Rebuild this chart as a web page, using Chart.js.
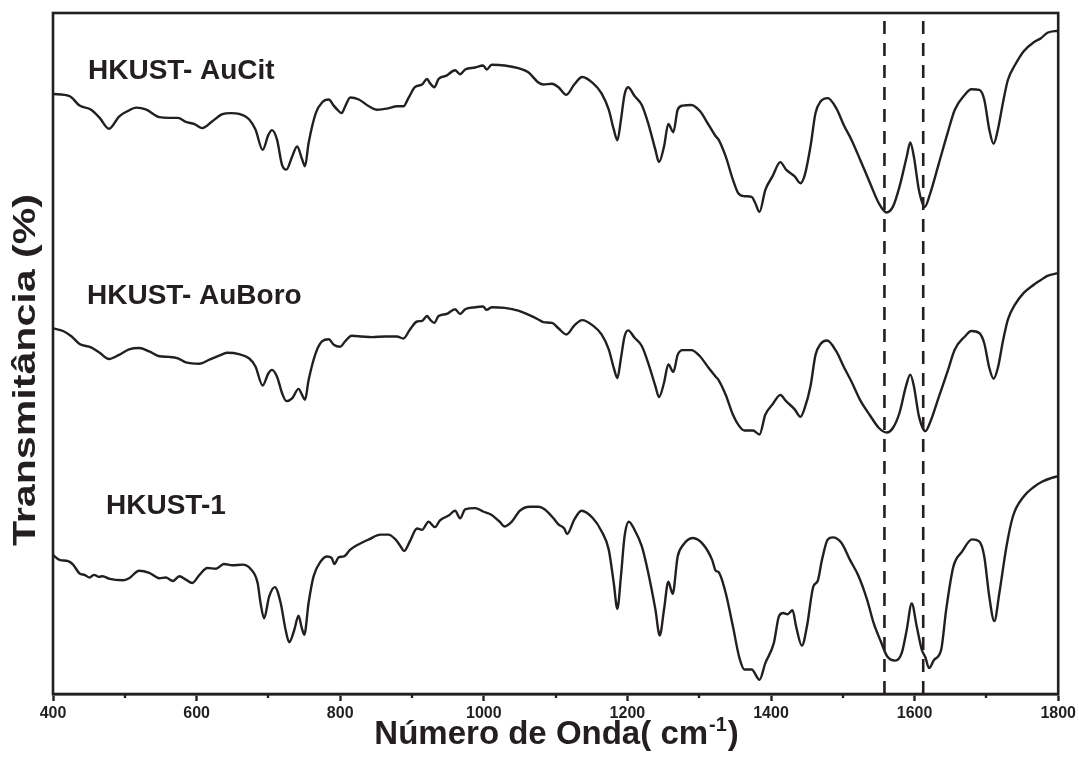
<!DOCTYPE html>
<html>
<head>
<meta charset="utf-8">
<title>Espectros FTIR</title>
<script src="https://cdn.jsdelivr.net/npm/chart.js@4.4.1/dist/chart.umd.min.js"></script>
<style>
  html, body { margin: 0; padding: 0; background: #ffffff; }
  canvas { display: block; }
</style>
</head>
<body>
<canvas id="ftir" width="1079" height="760"></canvas>
<script>
// FTIR spectra (transmittance, arbitrary offset units) vs. wavenumber (cm-1)
const aucitWave = [400,423,437,453,465,478,492,504,516,530,548,562,574,585,597,608,622,635,648,659,673,682,692,700,705,712,719,725,733,740,747,751,756,766,775,784,791,796,802,807,814,826,840,851,867,879,888,895,904,914,921,925,931,937,948,960,967,974,988,999,1004,1011,1029,1048,1062,
  1076,1083,1095,1104,1115,1126,1137,1152,1164,1174,1181,1186,1191,1196,1201,1210,1220,1229,1239,1244,1251,1257,1264,1270,1277,1289,1301,1313,1323,1327,1337,1347,1354,1363,1373,1378,1384,1392,1402,1413,1421,1433,1441,1447,1455,1462,1469,1479,1491,1502,1512,1524,1538,1550,1561,1570,1579,1589,1594,1599,1606,1614,1622,1634,1646,1656,1670,1679,1690,1697,1704,1710,1716,1723,1730,1740,1752,1766,1776,1785,1800];
const aucitT = [88.1,87.8,86.4,85.8,84.6,83.0,84.8,85.6,86.1,85.8,84.7,84.6,84.6,84.0,83.7,83.1,84.1,85.1,85.3,85.2,84.4,82.9,79.9,82.1,82.8,81.4,77.7,77.0,78.9,80.4,78.5,77.5,80.9,85.3,86.9,87.3,86.4,85.8,85.3,86.3,87.6,87.3,86.3,85.8,86.0,86.3,86.3,87.5,89.1,89.5,90.3,89.7,89.1,90.3,90.8,91.6,91.0,91.7,92.0,92.3,91.7,92.4,92.3,91.9,91.3,
  89.8,89.5,89.6,89.1,88.0,89.5,90.6,89.7,88.2,85.8,82.9,81.3,84.3,88.0,89.1,87.8,86.5,83.8,79.9,78.1,80.4,83.7,82.5,85.8,86.4,86.5,85.6,83.6,81.9,81.4,78.9,75.5,73.6,73.1,73.0,72.1,70.8,74.0,76.0,78.1,77.0,76.0,75.0,76.2,80.4,85.3,87.0,87.5,86.0,83.4,81.4,78.5,75.0,72.1,70.7,71.6,74.5,78.9,81.0,78.9,74.0,71.5,73.6,78.0,82.4,85.8,88.0,88.8,88.7,87.3,82.9,80.8,82.9,86.8,90.2,92.4,94.4,95.7,96.3,97.1,97.4];

const auboroWave = [400,414,426,437,453,465,478,492,506,520,534,548,562,574,585,604,618,634,643,659,673,682,692,700,705,712,719,725,733,742,747,751,756,766,775,784,791,800,807,816,830,844,863,879,888,897,907,914,921,925,931,937,948,960,967,974,988,999,1004,1011,1029,1048,1062,
  1076,1083,1095,1104,1115,1126,1137,1152,1164,1174,1181,1186,1191,1196,1201,1210,1220,1229,1239,1244,1251,1257,1264,1270,1277,1289,1301,1313,1323,1327,1337,1347,1356,1363,1375,1384,1392,1402,1413,1421,1433,1441,1447,1455,1462,1469,1478,1491,1502,1512,1524,1538,1550,1561,1570,1579,1588,1594,1599,1606,1615,1622,1634,1646,1656,1670,1679,1690,1697,1704,1710,1716,1723,1730,1740,1752,1766,1776,1785,1800];
const auboroT = [53.7,53.3,52.5,51.4,50.9,50.1,49.2,49.8,50.6,50.8,50.3,49.6,49.5,49.3,48.7,48.5,49.1,49.8,50.1,49.9,49.3,48.1,45.3,47.1,47.6,46.6,44.2,43.0,43.4,44.8,43.9,43.2,46.1,50.1,51.8,52.1,51.3,51.0,51.8,52.6,52.5,52.4,52.5,52.5,52.2,53.5,54.7,54.8,55.5,55.0,54.5,55.5,55.8,56.5,55.8,56.5,56.8,56.9,56.4,56.8,56.7,56.3,55.7,
  55.0,54.6,54.5,53.7,52.8,54.1,54.9,54.1,52.8,50.6,47.9,46.4,49.3,52.5,53.4,52.3,51.1,48.6,45.2,43.6,45.7,48.4,47.3,49.8,50.5,50.5,49.6,47.9,46.6,46.1,43.9,41.0,39.3,38.7,38.7,38.1,41.0,42.5,43.9,43.0,41.8,40.7,42.0,45.2,49.8,51.4,51.9,50.3,47.9,45.9,43.2,40.9,39.1,38.4,39.1,41.3,45.2,46.9,45.2,40.8,38.6,40.0,43.7,47.4,50.6,52.5,53.3,53.0,51.5,47.9,46.3,47.9,51.8,55.0,57.2,58.9,60.1,60.8,61.4,61.8];

const hkustWave = [400,409,421,428,437,444,451,457,464,469,479,497,506,520,534,548,557,567,576,585,594,604,615,627,638,650,664,675,685,689,694,701,709,717,724,729,736,742,746,750,756,763,773,782,788,792,798,805,814,826,840,856,867,877,884,889,897,907,914,923,932,939,951,960,967,974,988,999,1011,1022,1029,1039,1050,1064,
  1076,1085,1097,1104,1112,1116,1126,1136,1152,1164,1174,1181,1186,1191,1196,1202,1210,1220,1229,1239,1245,1251,1257,1263,1270,1277,1291,1306,1318,1323,1327,1337,1347,1356,1363,1373,1384,1392,1404,1411,1417,1423,1430,1435,1443,1450,1459,1465,1471,1479,1486,1498,1510,1522,1534,1543,1553,1562,1573,1582,1589,1596,1603,1610,1615,1620,1627,1637,1644,1654,1666,1680,1690,1697,1704,1711,1718,1728,1737,1752,1766,1778,1790,1800];
const hkustT = [20.4,19.7,19.5,19.0,17.7,17.5,17.1,17.5,17.2,17.3,16.9,16.7,17.0,18.1,17.8,17.0,17.1,16.6,17.3,16.8,16.3,17.5,18.5,18.4,19.1,18.9,19.0,18.4,16.3,13.4,11.1,14.3,15.7,13.4,9.4,7.6,9.4,11.5,9.9,8.7,13.4,17.3,19.5,20.2,20.0,19.1,20.1,20.2,21.2,22.0,22.7,23.4,23.4,22.7,21.7,21.0,22.4,24.3,24.1,25.3,24.5,25.5,26.2,26.9,25.8,27.1,27.3,26.8,26.3,25.3,24.6,25.3,26.9,27.5,
  27.5,27.1,25.8,24.9,24.3,23.5,25.6,26.9,25.8,23.9,21.2,16.3,12.5,17.3,23.1,25.3,24.1,21.7,17.8,12.4,8.6,12.4,16.5,14.7,20.2,21.8,22.9,21.9,19.7,18.1,17.9,14.8,9.9,5.3,3.6,3.6,2.1,4.5,7.5,11.4,11.9,11.7,12.3,9.9,7.1,9.9,15.8,16.6,19.7,22.7,23.0,22.2,19.7,17.3,13.8,10.4,7.7,5.5,4.9,6.0,9.4,13.3,9.9,6.5,5.4,3.8,5.0,6.5,12.4,18.7,20.9,22.7,22.4,20.2,14.3,10.7,14.8,21.7,26.1,29.0,30.4,31.2,31.7,32.0];

// reference band positions marked with dashed lines
const bandWave = [1558, 1612];
const seriesNames = ['HKUST- AuCit', 'HKUST- AuBoro', 'HKUST-1'];
const xMajorTicks = [400, 600, 800, 1000, 1200, 1400, 1600, 1800];
const xMinorTicks = [500, 700, 900, 1100, 1300, 1500, 1700];
const yRange = [0, 100];

const INK = '#231f20';
const FONT = '"Liberation Sans", Arial, Helvetica, sans-serif';

function toPoints(xs, ys) { return xs.map((x, i) => ({ x: x, y: ys[i] })); }

const spectrumStyle = {
  borderColor: INK, borderWidth: 2.4, pointRadius: 0, fill: false,
  cubicInterpolationMode: 'monotone'
};

const datasets = [
  Object.assign({ label: seriesNames[0], data: toPoints(aucitWave, aucitT) }, spectrumStyle),
  Object.assign({ label: seriesNames[1], data: toPoints(auboroWave, auboroT) }, spectrumStyle),
  Object.assign({ label: seriesNames[2], data: toPoints(hkustWave, hkustT) }, spectrumStyle)
];
bandWave.forEach(w => datasets.push({
  label: 'band ' + w,
  data: [{ x: w, y: yRange[0] }, { x: w, y: yRange[1] }],
  borderColor: INK, borderWidth: 2.6, borderDash: [13, 9], pointRadius: 0, fill: false
}));

// frame, minor ticks, curve labels and axis titles
const decorations = {
  id: 'decorations',
  afterDraw(chart) {
    const ctx = chart.ctx;
    const a = chart.chartArea;
    const xs = chart.scales.x;
    ctx.save();
    ctx.strokeStyle = INK;
    ctx.lineWidth = 2.6;
    ctx.strokeRect(a.left, a.top, a.right - a.left, a.bottom - a.top);

    ctx.lineWidth = 2.4;
    xMinorTicks.forEach(v => {
      const px = Math.round(xs.getPixelForValue(v));
      ctx.beginPath();
      ctx.moveTo(px, a.bottom);
      ctx.lineTo(px, a.bottom + 4);
      ctx.stroke();
    });

    ctx.fillStyle = INK;
    ctx.textAlign = 'left';
    ctx.textBaseline = 'alphabetic';
    ctx.font = 'bold 28px ' + FONT;
    ctx.fillText(seriesNames[0], 88, 79);
    ctx.fillText(seriesNames[1], 87, 304);
    ctx.fillText(seriesNames[2], 106, 514);

    // x title with superscript exponent
    const main = 'Número de Onda( cm';
    const sup = '-1';
    const tail = ')';
    ctx.font = 'bold 33px ' + FONT;
    const wMain = ctx.measureText(main).width;
    const wTail = ctx.measureText(tail).width;
    ctx.font = 'bold 20px ' + FONT;
    const wSup = ctx.measureText(sup).width;
    const cx = (a.left + a.right) / 2;
    const x0 = cx - (wMain + wSup + wTail) / 2;
    const base = 744;
    ctx.font = 'bold 33px ' + FONT;
    ctx.fillText(main, x0, base);
    ctx.font = 'bold 20px ' + FONT;
    ctx.fillText(sup, x0 + wMain + 1, base - 13);
    ctx.font = 'bold 33px ' + FONT;
    ctx.fillText(tail, x0 + wMain + wSup + 2, base);

    // y title, set wide along its reading direction
    const yTitle = 'Transmitância (%)';
    ctx.font = 'bold 31px ' + FONT;
    const wY = ctx.measureText(yTitle).width;
    ctx.translate(26, 370);
    ctx.rotate(-Math.PI / 2);
    ctx.scale(352 / wY, 1);
    ctx.textAlign = 'center';
    ctx.textBaseline = 'middle';
    ctx.fillText(yTitle, 0, 0);
    ctx.restore();
  }
};

new Chart(document.getElementById('ftir'), {
  type: 'line',
  data: { datasets: datasets },
  options: {
    responsive: false,
    animation: false,
    devicePixelRatio: 1,
    layout: { padding: { left: 53, top: 13, right: 19, bottom: 0 } },
    plugins: { legend: { display: false }, tooltip: { enabled: false } },
    scales: {
      x: {
        type: 'linear', min: xMajorTicks[0], max: xMajorTicks[xMajorTicks.length - 1],
        afterBuildTicks: s => { s.ticks = xMajorTicks.map(v => ({ value: v })); },
        afterFit: s => { s.height = 66; },
        border: { display: true, color: INK, width: 2.6 },
        grid: { drawOnChartArea: false, drawTicks: true, tickLength: 7, tickWidth: 2.4, tickColor: INK },
        ticks: {
          color: INK, font: { family: FONT, size: 16, weight: 'bold' }, padding: 3,
          maxRotation: 0, autoSkip: false, callback: v => String(v)
        }
      },
      y: { display: false, min: yRange[0], max: yRange[1] }
    }
  },
  plugins: [decorations]
});
</script>
</body>
</html>
